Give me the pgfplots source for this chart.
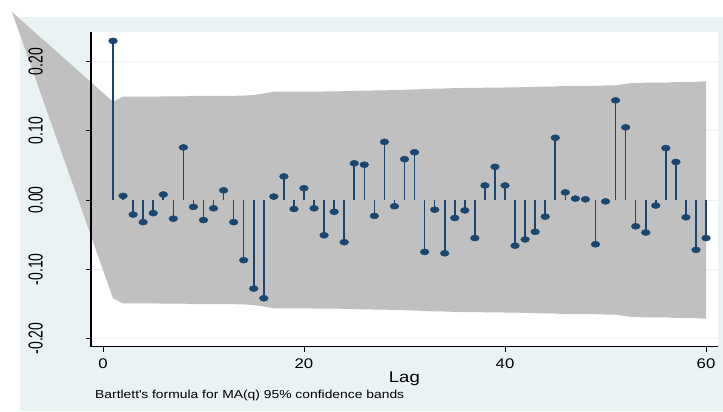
\documentclass[border=0pt]{standalone}
\usepackage{pgfplots}
\pgfplotsset{compat=1.18}
\usepackage{fontspec}
\setmainfont[FakeStretch=1.2]{Liberation Sans}
\newfontfamily\ylabfont{Liberation Sans}
\definecolor{stnavy}{RGB}{26,71,111}
\definecolor{stbg}{RGB}{234,242,243}
\definecolor{stgrid}{RGB}{234,242,245}
\definecolor{stband}{RGB}{192,192,192}
\begin{document}
\begin{tikzpicture}[x=1bp,y=1bp]
\useasboundingbox (0,0) rectangle (723,411);
\fill[white] (0,0) rectangle (723,411);
\fill[stbg] (20,0) rectangle (723,394);
\begin{axis}[
  at={(91bp,64.3bp)}, anchor=south west,
  width=626.7bp, height=314.7bp, scale only axis,
  xmin=-1.19, xmax=61.16, ymin=-0.212, ymax=0.2428,
  axis background/.style={fill=white},
  clip=false,
  axis line style={draw=none},
  xtick=\empty,
  ytick={-0.2,-0.1,0,0.1,0.2},
  yticklabels={},
  major tick length=0pt,
  ymajorgrids,
  grid style={stgrid, line width=1bp},
]
\addplot[fill=stband, draw=none] coordinates {
(-9.05,0.2717)
(1,0.1420) (2,0.1493) (3,0.1493) (4,0.1494) (5,0.1495) (6,0.1496) (7,0.1496) (8,0.1497) (9,0.1505) (10,0.1505)
(11,0.1506) (12,0.1506) (13,0.1506) (14,0.1508) (15,0.1518) (16,0.1539) (17,0.1566) (18,0.1566) (19,0.1567) (20,0.1567)
(21,0.1568) (22,0.1568) (23,0.1571) (24,0.1572) (25,0.1576) (26,0.1580) (27,0.1583) (28,0.1584) (29,0.1593) (30,0.1593)
(31,0.1597) (32,0.1603) (33,0.1610) (34,0.1611) (35,0.1618) (36,0.1619) (37,0.1619) (38,0.1623) (39,0.1624) (40,0.1626)
(41,0.1627) (42,0.1632) (43,0.1636) (44,0.1639) (45,0.1640) (46,0.1650) (47,0.1650) (48,0.1650) (49,0.1650) (50,0.1655)
(51,0.1655) (52,0.1680) (53,0.1693) (54,0.1695) (55,0.1697) (56,0.1697) (57,0.1704) (58,0.1708) (59,0.1708) (60,0.1715)
(60,-0.1715) (59,-0.1708) (58,-0.1708) (57,-0.1704) (56,-0.1697) (55,-0.1697) (54,-0.1695) (53,-0.1693) (52,-0.1680) (51,-0.1655)
(50,-0.1655) (49,-0.1650) (48,-0.1650) (47,-0.1650) (46,-0.1650) (45,-0.1640) (44,-0.1639) (43,-0.1636) (42,-0.1632) (41,-0.1627)
(40,-0.1626) (39,-0.1624) (38,-0.1623) (37,-0.1619) (36,-0.1619) (35,-0.1618) (34,-0.1611) (33,-0.1610) (32,-0.1603) (31,-0.1597)
(30,-0.1593) (29,-0.1593) (28,-0.1584) (27,-0.1583) (26,-0.1580) (25,-0.1576) (24,-0.1572) (23,-0.1571) (22,-0.1568) (21,-0.1568)
(20,-0.1567) (19,-0.1567) (18,-0.1566) (17,-0.1566) (16,-0.1539) (15,-0.1518) (14,-0.1508) (13,-0.1506) (12,-0.1506) (11,-0.1506)
(10,-0.1505) (9,-0.1505) (8,-0.1497) (7,-0.1496) (6,-0.1496) (5,-0.1495) (4,-0.1494) (3,-0.1493) (2,-0.1493) (1,-0.1420)
(-9.05,0.2717)
};
\addplot[ycomb, stnavy, line width=1.6bp, mark=*, mark size=3bp,
  mark options={xscale=1.45, fill=stnavy, draw=stnavy, line width=0.5bp}] coordinates {
(1,0.230) (2,0.006) (3,-0.021) (4,-0.032) (5,-0.019) (6,0.008) (7,-0.027) (8,0.076) (9,-0.010) (10,-0.029)
(11,-0.012) (12,0.014) (13,-0.032) (14,-0.087) (15,-0.128) (16,-0.142) (17,0.005) (18,0.034) (19,-0.013) (20,0.017)
(21,-0.012) (22,-0.051) (23,-0.017) (24,-0.061) (25,0.053) (26,0.051) (27,-0.023) (28,0.084) (29,-0.009) (30,0.059)
(31,0.069) (32,-0.075) (33,-0.014) (34,-0.077) (35,-0.026) (36,-0.015) (37,-0.055) (38,0.021) (39,0.048) (40,0.021)
(41,-0.066) (42,-0.057) (43,-0.046) (44,-0.024) (45,0.090) (46,0.011) (47,0.002) (48,0.001) (49,-0.064) (50,-0.002)
(51,0.144) (52,0.105) (53,-0.038) (54,-0.047) (55,-0.008) (56,0.075) (57,0.055) (58,-0.025) (59,-0.072) (60,-0.055)
};
\end{axis}
\begin{axis}[
  at={(91bp,64.3bp)}, anchor=south west,
  width=626.7bp, height=314.7bp, scale only axis,
  xmin=-1.19, xmax=61.16, ymin=-0.212, ymax=0.2428,
  axis x line=bottom, axis y line=left,
  axis line style={-, black, line width=1.1bp},
  tick align=outside, major tick length=5bp,
  tick style={black, line width=0.9bp},
  xtick={0,20,40,60}, xticklabels={0,20,40,60},
  ytick={-0.2,-0.1,0,0.1,0.2}, yticklabels={-0.20,-0.10,0.00,0.10,0.20},
  xticklabel style={font=\fontsize{14}{14}\selectfont, anchor=north, inner sep=0pt, yshift=-6.6bp},
  yticklabel style={font=\ylabfont\fontsize{14}{14}\selectfont, xshift=-43bp, rotate=90, yscale=1.45, anchor=south, inner sep=0pt},
  xlabel={Lag},
  xlabel style={font=\fontsize{15.5}{15.5}\selectfont, at={(axis description cs:0.5,-0.1144)}, anchor=base, inner sep=0pt},
  clip=false,
]
\addplot[draw=none] coordinates {(0,0)};
\node[anchor=base west, inner sep=0pt, font=\fontsize{11.6}{11.6}\selectfont] at (rel axis cs:0.0064,-0.163) {Bartlett\textquotesingle s formula for MA(q) 95\% confidence bands};
\end{axis}
\end{tikzpicture}
\end{document}
